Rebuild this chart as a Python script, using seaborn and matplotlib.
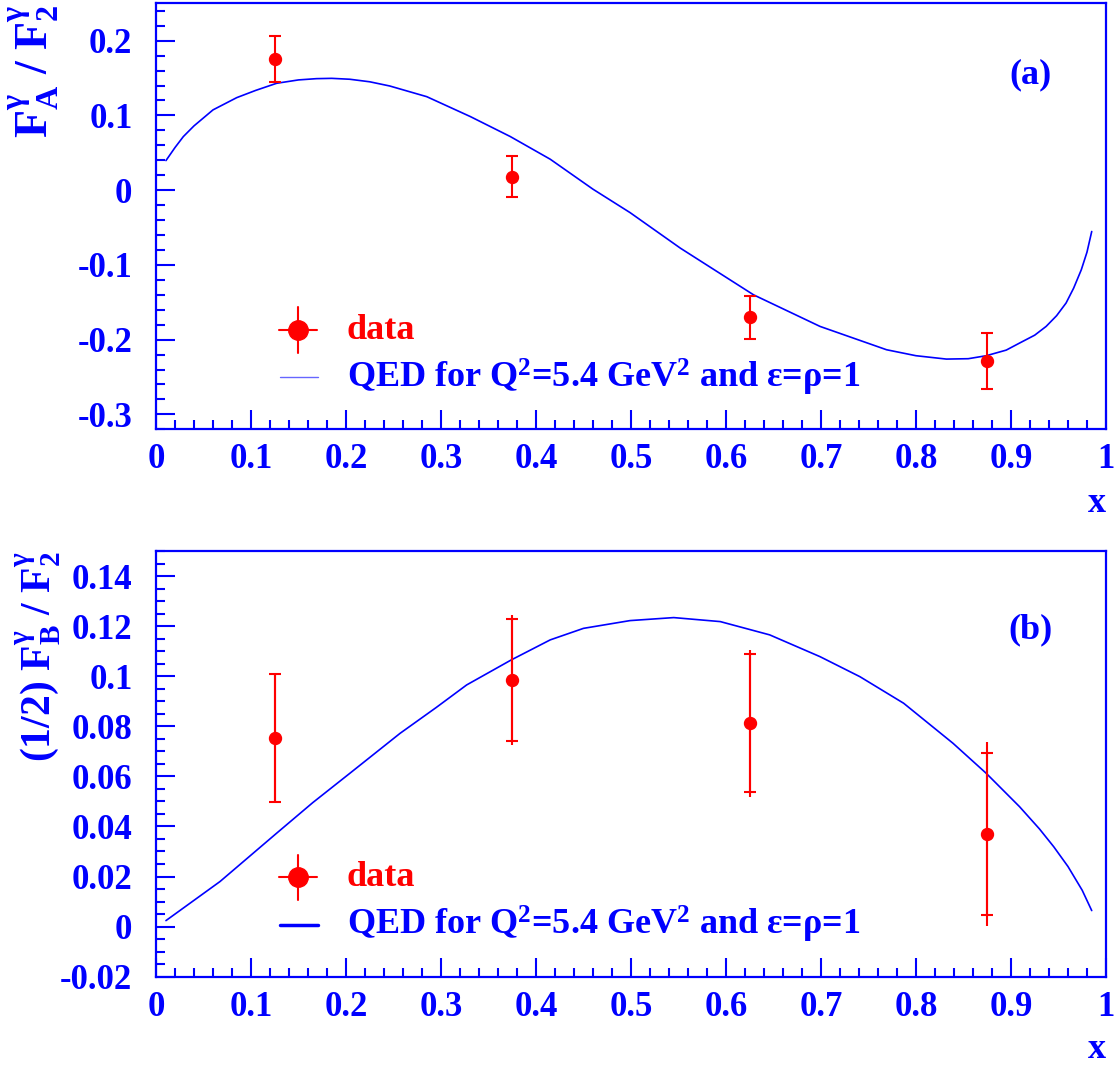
import matplotlib
matplotlib.use("Agg")
import matplotlib.pyplot as plt
import seaborn as sns
from matplotlib.ticker import MultipleLocator, FuncFormatter

# measured ratios in four x bins
x_bins = [0.125, 0.375, 0.625, 0.875]
fa_ratio = [0.1755, 0.0182, -0.1698, -0.2282]
fa_err = [0.031, 0.028, 0.0288, 0.0376]

fb_ratio = [0.0753, 0.0985, 0.0812, 0.0369]
fb_stat = [0.0254, 0.0245, 0.0276, 0.0324]
fb_tot = [0.0256, 0.0260, 0.0293, 0.0367]

# QED prediction
qed_a_x = [0.0105, 0.02, 0.0288, 0.04, 0.06, 0.085, 0.105, 0.127, 0.15, 0.169, 0.185, 0.204,
           0.225, 0.246, 0.285, 0.331, 0.373, 0.415, 0.46, 0.499, 0.552, 0.629, 0.699,
           0.769, 0.8, 0.832, 0.855, 0.874, 0.895, 0.909, 0.925, 0.937, 0.948, 0.958,
           0.966, 0.974, 0.98, 0.985]
qed_a_y = [0.0396, 0.057, 0.0717, 0.086, 0.1074, 0.1238, 0.1335, 0.143, 0.1475, 0.1492, 0.1496,
           0.1484, 0.1450, 0.1394, 0.1251, 0.0984, 0.0717, 0.0414, 0.0013, -0.03, -0.0776,
           -0.14, -0.1823, -0.2135, -0.2215, -0.226, -0.2255, -0.2215, -0.2140, -0.2046,
           -0.1940, -0.1823, -0.1680, -0.151, -0.1310, -0.1066, -0.0830, -0.0553]

qed_b_x = [0.0105, 0.0674, 0.127, 0.165, 0.204, 0.257, 0.295, 0.327, 0.374, 0.415, 0.45, 0.499,
           0.545, 0.594, 0.646, 0.699, 0.741, 0.787, 0.839, 0.874, 0.909, 0.93, 0.945,
           0.96, 0.975, 0.985]
qed_b_y = [0.0024, 0.018, 0.0373, 0.0495, 0.0612, 0.0772, 0.0875, 0.0965, 0.1065, 0.1145, 0.1191,
           0.1222, 0.1234, 0.1218, 0.1165, 0.1078, 0.0998, 0.0892, 0.0732, 0.0612, 0.0479, 0.0390,
           0.0319, 0.0240, 0.0145, 0.0064]

qed_label = r"QED for Q$^{2}$=5.4 GeV$^{2}$ and ε=ρ=1"

sns.set_style("ticks")
plt.rcParams["font.family"] = ["Liberation Serif", "DejaVu Serif"]
plt.rcParams["font.weight"] = "bold"
plt.rcParams["mathtext.fontset"] = "custom"
plt.rcParams["mathtext.rm"] = "Liberation Serif:bold"
plt.rcParams["mathtext.it"] = "Liberation Serif:bold"
plt.rcParams["mathtext.bf"] = "Liberation Serif:bold"

BLUE = "#0000ff"
RED = "#ff0000"

fig = plt.figure(figsize=(11.15, 10.68), dpi=100)
ax_a = fig.add_axes([0.1399, 0.598, 0.852, 0.3989])
ax_b = fig.add_axes([0.1399, 0.0855, 0.852, 0.3986])

fmt = FuncFormatter(lambda v, p: "%g" % round(v, 4))


def style_axis(ax, ylim, ymaj, ymin):
    ax.set_xlim(0, 1)
    ax.set_ylim(*ylim)
    for side in ["top", "right", "left", "bottom"]:
        ax.spines[side].set_visible(True)
        ax.spines[side].set_color(BLUE)
        ax.spines[side].set_linewidth(1.6)
    ax.xaxis.set_major_locator(MultipleLocator(0.1))
    ax.xaxis.set_minor_locator(MultipleLocator(0.02))
    ax.yaxis.set_major_locator(MultipleLocator(ymaj))
    ax.yaxis.set_minor_locator(MultipleLocator(ymin))
    ax.xaxis.set_major_formatter(fmt)
    ax.yaxis.set_major_formatter(fmt)
    ax.tick_params(which="both", direction="in", color=BLUE, width=1.5,
                   labelcolor=BLUE, labelsize=25, top=False, right=False)
    ax.tick_params(which="major", length=13.5)
    ax.tick_params(which="minor", length=6.5)
    ax.tick_params(axis="x", pad=10)
    ax.tick_params(axis="y", pad=17)
    for lab in ax.get_xticklabels() + ax.get_yticklabels():
        lab.set_fontweight("bold")
    ax.set_xlabel("")
    ax.set_ylabel("")


def draw_legend(ax, thick):
    tr = ax.transAxes
    ax.plot([0.1295, 0.1695], [0.233, 0.233], color=RED, lw=1.5, transform=tr, clip_on=False)
    ax.plot([0.1495, 0.1495], [0.18, 0.286], color=RED, lw=1.5, transform=tr, clip_on=False)
    ax.plot([0.1495], [0.233], "o", color=RED, ms=14, transform=tr, clip_on=False)
    ax.text(0.201, 0.233, "data", color=RED, fontsize=26, fontweight="bold",
            va="center", ha="left", transform=tr)
    ax.plot([0.1305, 0.1705], [0.122, 0.122], color=BLUE, lw=thick, transform=tr,
            alpha=1.0 if thick > 1.5 else 0.6)
    ax.text(0.201, 0.122, qed_label, color=BLUE, fontsize=26, fontweight="bold",
            va="center", ha="left", transform=tr)


# panel (a)
style_axis(ax_a, (-0.32, 0.25), 0.1, 0.02)
sns.lineplot(x=qed_a_x, y=qed_a_y, ax=ax_a, color=BLUE, lw=1.2, sort=False, estimator=None)
ax_a.errorbar(x_bins, fa_ratio, yerr=fa_err, fmt="o", color=RED, ms=8.6,
              elinewidth=1.5, capsize=4.3, capthick=1.5)
ax_a.text(0.921, 0.832, "(a)", color=BLUE, fontsize=26, fontweight="bold",
          ha="center", va="center", transform=ax_a.transAxes)
draw_legend(ax_a, 1.0)

# panel (b)
style_axis(ax_b, (-0.02, 0.15), 0.02, 0.005)
sns.lineplot(x=qed_b_x, y=qed_b_y, ax=ax_b, color=BLUE, lw=1.2, sort=False, estimator=None)
ax_b.errorbar(x_bins, fb_ratio, yerr=fb_tot, fmt="none", ecolor=RED, elinewidth=1.5, capsize=0)
ax_b.errorbar(x_bins, fb_ratio, yerr=fb_stat, fmt="o", color=RED, ms=8.6,
              elinewidth=1.5, capsize=4.3, capthick=1.5)
ax_b.text(0.921, 0.814, "(b)", color=BLUE, fontsize=26, fontweight="bold",
          ha="center", va="center", transform=ax_b.transAxes)
draw_legend(ax_b, 2.5)

# axis titles
fig.text(0.031, 0.996, r"F$_{A}^{\gamma}$ / F$_{2}^{\gamma}$", rotation=90, color=BLUE,
         fontsize=33, fontweight="bold", ha="center", va="top")
fig.text(0.034, 0.484, r"(1/2) F$_{B}^{\gamma}$ / F$_{2}^{\gamma}$", rotation=90, color=BLUE,
         fontsize=30, fontweight="bold", ha="center", va="top")
fig.text(0.992, 0.529, "x", color=BLUE, fontsize=26, fontweight="bold", ha="right", va="center")
fig.text(0.992, 0.017, "x", color=BLUE, fontsize=26, fontweight="bold", ha="right", va="center")

fig.savefig("out.png", dpi=100, facecolor="white")
